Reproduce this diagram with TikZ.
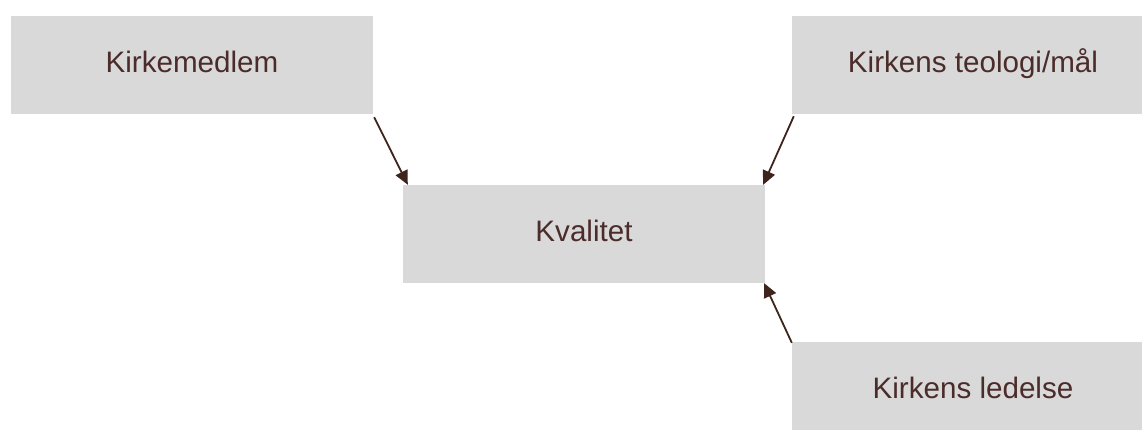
\documentclass[tikz,border=0pt]{standalone}
\usepackage{fontspec}
\setmainfont{Liberation Sans}
\usetikzlibrary{arrows.meta,calc}
\definecolor{boxfill}{HTML}{D9D9D9}
\definecolor{txtcol}{HTML}{4A2C2A}
\definecolor{arrcol}{HTML}{3E241C}
\begin{document}
\begin{tikzpicture}[x=1pt,y=-1pt,
  gbox/.style={fill=boxfill, draw=none, minimum width=362pt, minimum height=98pt, inner sep=0pt, text height=21pt, text depth=6pt, text=txtcol, font=\fontsize{29.6pt}{34pt}\selectfont},
  conn/.style={draw=arrcol, line width=1.8pt, -{Triangle[length=14pt,width=13pt]}}]
\useasboundingbox (0,0) rectangle (1142,430);
\clip (0,0) rectangle (1142,430);
\node[gbox] (b1) at (192,65) {Kirkemedlem};
\node[gbox] (b2) at (973,65) {Kirkens teologi/mål};
\node[gbox] (kv) at (584,234) {Kvalitet};
\node[gbox] (b4) at (973,391) {Kirkens ledelse};
\draw[conn] ($(b1.south east)+(1,3)$) -- ($(kv.north west)+(5,0)$);
\draw[conn] ($(b2.south west)+(2,2)$) -- ($(kv.north east)+(-2,0)$);
\draw[conn] ($(b4.north west)+(0,1)$) -- ($(kv.south east)+(-1,0)$);
\end{tikzpicture}
\end{document}
